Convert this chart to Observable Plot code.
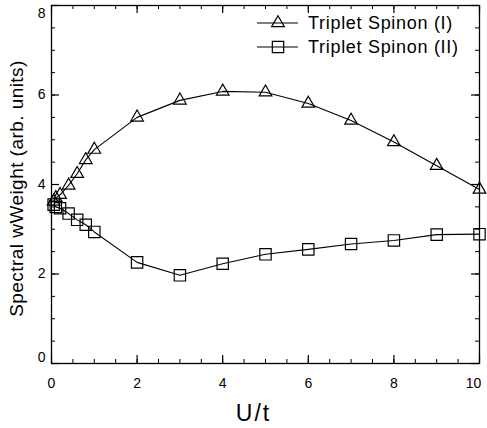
<!DOCTYPE html>
<html>
<head>
<meta charset="utf-8">
<script src="https://cdn.jsdelivr.net/npm/d3@7"></script>
<script src="https://cdn.jsdelivr.net/npm/@observablehq/plot@0.6"></script>
<style>
  html, body { margin: 0; padding: 0; background: #fff; }
  svg { font-family: "Liberation Sans", Arial, sans-serif; }
</style>
</head>
<body>
<div id="chart"></div>
<script>
// ---- data ----
const uValues = [0.05, 0.1, 0.2, 0.4, 0.6, 0.8, 1, 2, 3, 4, 5, 6, 7, 8, 9, 10];
const spinonI  = [3.62, 3.70, 3.77, 3.98, 4.24, 4.55, 4.78, 5.50, 5.88, 6.08, 6.06, 5.81, 5.43, 4.95, 4.42, 3.89];
const spinonII = [3.55, 3.50, 3.47, 3.35, 3.21, 3.10, 2.94, 2.26, 1.97, 2.23, 2.44, 2.55, 2.67, 2.75, 2.88, 2.89];
const seriesNames = ["Triplet Spinon (I)", "Triplet Spinon (II)"];
const xTicks = [0, 2, 4, 6, 8, 10];
const yTicks = [0, 2, 4, 6, 8];
const xMinor = d3.range(0, 10.01, 0.5);
const yMinor = d3.range(0, 8.01, 0.5);
const xTitle = "U/t";
const yTitle = "Spectral wWeight (arb. units)";

const dataI = uValues.map((u, i) => ({u, w: spinonI[i]}));
const dataII = uValues.map((u, i) => ({u, w: spinonII[i]}));

const W = 487, H = 428;
const mL = 51, mR = 8, mT = 5, mB = 65;
const plotW = W - mL - mR, plotH = H - mT - mB;
const major = 8, minor = 4;

const plot = Plot.plot({
  width: W, height: H,
  marginLeft: mL, marginRight: mR, marginTop: mT, marginBottom: mB,
  style: {fontFamily: "Liberation Sans, Arial, sans-serif", color: "#000", background: "#fff"},
  x: {domain: [0, 10]},
  y: {domain: [0, 8]},
  marks: [
    // tick labels
    Plot.axisX(xTicks.filter(d => d < 10), {tickSize: 0, tickPadding: 15, fontSize: 14, label: null}),
    Plot.axisX([10], {tickSize: 0, tickPadding: 15, fontSize: 14, label: null, dx: -6}),
    Plot.axisY(yTicks.filter(d => d > 0 && d < 8), {tickSize: 0, tickPadding: 6, fontSize: 14, label: null}),
    Plot.axisY([0], {tickSize: 0, tickPadding: 6, fontSize: 14, label: null, dy: -6}),
    Plot.axisY([8], {tickSize: 0, tickPadding: 6, fontSize: 14, label: null, dy: 8}),
    // inward ticks, all four sides
    Plot.ruleX(xTicks, {x: d => d, insetTop: plotH - major, stroke: "#000", strokeWidth: 1.2}),
    Plot.ruleX(xTicks, {x: d => d, insetBottom: plotH - major, stroke: "#000", strokeWidth: 1.2}),
    Plot.ruleX(xMinor, {x: d => d, insetTop: plotH - minor, stroke: "#000"}),
    Plot.ruleX(xMinor, {x: d => d, insetBottom: plotH - minor, stroke: "#000"}),
    Plot.ruleY(yTicks, {y: d => d, insetRight: plotW - major, stroke: "#000", strokeWidth: 1.2}),
    Plot.ruleY(yTicks, {y: d => d, insetLeft: plotW - major, stroke: "#000", strokeWidth: 1.2}),
    Plot.ruleY(yMinor, {y: d => d, insetRight: plotW - minor, stroke: "#000"}),
    Plot.ruleY(yMinor, {y: d => d, insetLeft: plotW - minor, stroke: "#000"}),
    Plot.frame({stroke: "#000", strokeWidth: 1.3}),
    // axis titles
    Plot.text([xTitle], {frameAnchor: "bottom", dx: -12, dy: 50, fontSize: 23, lineAnchor: "middle", textAnchor: "middle", fill: "#000"}),
    Plot.text([yTitle], {frameAnchor: "left", rotate: -90, dx: -35, dy: 4, fontSize: 19, lineAnchor: "middle", textAnchor: "middle", fill: "#000"}),
    // data
    Plot.line(dataI, {x: "u", y: "w", stroke: "#000", strokeWidth: 1.1}),
    Plot.line(dataII, {x: "u", y: "w", stroke: "#000", strokeWidth: 1.1}),
    Plot.dot(dataI, {x: "u", y: "w", symbol: "triangle", r: 4.7, stroke: "#000", strokeWidth: 1.2, fill: "none"}),
    Plot.dot(dataII, {x: "u", y: "w", symbol: "square", r: 6.4, stroke: "#000", strokeWidth: 1.2, fill: "none"})
  ]
});

const svg = d3.select(plot);
// letter spacing on titles to mimic the wide original font
svg.selectAll("text").each(function() {
  const t = d3.select(this);
  const txt = t.text();
  if (txt === yTitle) t.style("letter-spacing", "0.45px");
  if (txt === xTitle) t.style("letter-spacing", "2px");
});

// legend (top right, inside the frame)
const legend = svg.append("g").attr("class", "legend").attr("text-anchor", "start");
const symbols = [d3.symbolTriangle, d3.symbolSquare];
const sizes = [Math.PI * 4.7 * 4.7, Math.PI * 6.4 * 6.4];
seriesNames.forEach((name, i) => {
  const y = 23 + i * 24;
  legend.append("line").attr("x1", 257).attr("x2", 298).attr("y1", y).attr("y2", y)
    .attr("stroke", "#000").attr("stroke-width", 1.1);
  legend.append("path").attr("d", d3.symbol(symbols[i], sizes[i])())
    .attr("transform", `translate(278,${y})`).attr("fill", "none").attr("stroke", "#000").attr("stroke-width", 1.2);
  legend.append("text").attr("x", 308).attr("y", y).attr("dy", "0.32em")
    .attr("text-anchor", "start")
    .attr("font-size", 18).style("letter-spacing", "0.7px").attr("fill", "#000").text(name);
});

document.getElementById("chart").appendChild(plot);
</script>
</body>
</html>
